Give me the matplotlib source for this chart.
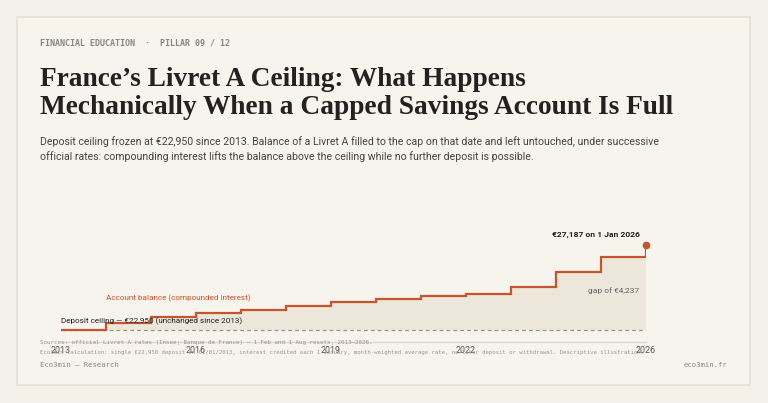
import matplotlib
matplotlib.use("Agg")
import matplotlib.pyplot as plt
from matplotlib.patches import Rectangle

years = [2013, 2014, 2015, 2016, 2017, 2018, 2019, 2020, 2021, 2022, 2023, 2024, 2025, 2026]
balance = [22950, 23313, 23580, 23791, 23970, 24150, 24331, 24513, 24641, 24764, 25105, 25838, 26613, 27187]
ceiling = 22950
tick_years = [2013, 2016, 2019, 2022, 2026]
tick_labels = ["2013", "2016", "2019", "2022", "2026"]

W, H = 768, 403
fig = plt.figure(figsize=(W / 100, H / 100), dpi=100)
fig.patch.set_facecolor("#f4f1ea")

def fx(px):
    return px / W

def fy(py):
    return 1 - py / H

# card
card = Rectangle((fx(17), fy(385)), fx(750) - fx(17), fy(17) - fy(385),
                 transform=fig.transFigure, facecolor="#f7f4ee",
                 edgecolor="#e6e1d6", linewidth=1.2, zorder=-5)
fig.patches.append(card)

ORANGE = "#c4552f"
SANS = "Roboto"

# axes
ax_top, ax_bot = 225, 342
ax = fig.add_axes([fx(61), fy(ax_bot), fx(646) - fx(61), fy(ax_top) - fy(ax_bot)])
ax.set_zorder(2)
ax.set_facecolor("none")
scale = 85 / (balance[-1] - ceiling)  # px per euro
ymin = ceiling - (ax_bot - 330) / scale
ymax = balance[-1] + (245 - ax_top) / scale
ax.set_xlim(years[0], years[-1])
ax.set_ylim(ymin, ymax)

ax.fill_between(years, ceiling, balance, step="post", color="#ede6da", linewidth=0, zorder=1)
ax.axhline(ceiling, color="#9a958c", linestyle=(0, (3, 2.5)), linewidth=0.9, zorder=2)
ax.plot(years, balance, drawstyle="steps-post", color=ORANGE, linewidth=1.6, zorder=3,
        solid_joinstyle="miter")
ax.plot([years[-1]], [balance[-1]], "o", color=ORANGE, markersize=4.5, zorder=4, clip_on=False)

for s in ["top", "right", "left"]:
    ax.spines[s].set_visible(False)
ax.spines["bottom"].set_color("#dcd8cf")
ax.spines["bottom"].set_linewidth(1.0)
ax.set_yticks([])
ax.set_xticks(tick_years)
ax.set_xticklabels(tick_labels, fontsize=6.4, color="#555555", family=SANS)
ax.tick_params(axis="x", length=0, pad=3)

# annotations in data coords
ax.text(years[-1] - 0.13, balance[-1] + 10 / scale, "€27,187 on 1 Jan 2026", ha="right", va="center",
        fontsize=6.1, fontweight="bold", color="#222222", family=SANS)
ax.text(years[-1] - 0.15, 24937, "gap of €4,237", ha="right", va="center",
        fontsize=6.0, color="#666666", family=SANS)
ax.text(2014.0, 24540, "Account balance (compounded interest)", ha="left", va="center",
        fontsize=5.9, color=ORANGE, family=SANS)
ax.text(2013.0, ceiling + 9 / scale, "Deposit ceiling — €22,950 (unchanged since 2013)", ha="left",
        va="center", fontsize=5.9, color="#222222", family=SANS)

# header
fig.text(fx(40), fy(43), "FINANCIAL EDUCATION  ·  PILLAR 09 / 12", ha="left", va="center",
         fontsize=6, color="#8a8680", family="DejaVu Sans Mono", fontweight="bold")
fig.text(fx(40), fy(79), "France’s Livret A Ceiling: What Happens", ha="left", va="center",
         fontsize=19.7, fontweight="bold", color="#222222", family="Liberation Serif")
fig.text(fx(40), fy(108), "Mechanically When a Capped Savings Account Is Full", ha="left", va="center",
         fontsize=19.7, fontweight="bold", color="#222222", family="Liberation Serif")
fig.text(fx(40), fy(142), "Deposit ceiling frozen at €22,950 since 2013. Balance of a Livret A filled to the cap on that date and left untouched, under successive",
         ha="left", va="center", fontsize=7.55, color="#444444", family=SANS)
fig.text(fx(40), fy(157), "official rates: compounding interest lifts the balance above the ceiling while no further deposit is possible.",
         ha="left", va="center", fontsize=7.55, color="#444444", family=SANS)

# sources
fig.text(fx(40), fy(342.5), "Sources: official Livret A rates (Insee; Banque de France) — 1 Feb and 1 Aug resets, 2013–2026.",
         ha="left", va="center", fontsize=4.2, color="#9a968f", family="DejaVu Sans Mono")
fig.text(fx(40), fy(352.5), "Eco3min calculation: single €22,950 deposit on 01/01/2013, interest credited each 1 January, month-weighted average rate, no later deposit or withdrawal. Descriptive illustration.",
         ha="left", va="center", fontsize=4.1, color="#9a968f", family="DejaVu Sans Mono")

# footer
fig.text(fx(40), fy(365), "Eco3min — Research", ha="left", va="center",
         fontsize=5.2, color="#8a8680", family="DejaVu Sans Mono")
fig.text(fx(727), fy(365), "eco3min.fr", ha="right", va="center",
         fontsize=5.2, color="#8a8680", family="DejaVu Sans Mono")

fig.savefig("out.png", dpi=100, facecolor=fig.get_facecolor())
